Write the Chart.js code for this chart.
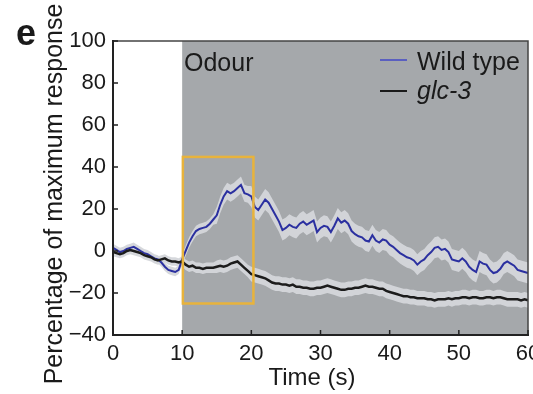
<!DOCTYPE html>
<html>
<head>
<meta charset="utf-8">
<script src="https://cdn.jsdelivr.net/npm/chart.js@4.4.1/dist/chart.umd.min.js"></script>
<style>
  html, body { margin: 0; padding: 0; background: #fff; }
  #wrap { width: 533px; height: 394px; }
</style>
</head>
<body>
<div id="wrap"><canvas id="chart" width="533" height="394"></canvas></div>
<script>
// Samples every 0.5 s, from 0 to 60 s
const sampleStep = 0.5;

const wildType = [
    1.5, 0.5, -0.5, 0, 1, 1.5, 2, 1, 0, -1,
    -1.5, -2.5, -3.5, -4, -5.5, -7.5, -9, -9.5, -10, -9,
    -4, 0, 4, 7, 9.5, 10.5, 11, 11.5, 13, 15,
    17, 22, 26, 28.5, 27.5, 28.5, 30, 31.5, 27.5, 27,
    26, 21, 19.5, 22, 24.5, 23, 20, 17, 14, 10,
    11, 12.5, 11.5, 11, 13, 14, 12.5, 13.5, 14.5, 9,
    11, 12, 11.5, 9, 12, 15.5, 13.5, 14.5, 13, 9.5,
    8, 7, 6.5, 5, 4.5, 7.5, 5, 4, 5.5, 5,
    3, 2, 0.5, -1, -2, -3, -3.5, -4.5, -6.5, -5,
    -4, -2, -0.5, 1.5, 2, 0.5, 1, -0.5, -4, -4.5,
    -5, -3.5, -5, -7.5, -9, -10, -5, -6, -6.5, -9,
    -10.5, -10, -8.5, -6, -5, -6, -7, -9, -9.5, -10,
    -10.5
];

const glc3 = [
    -0.5, -1, -1.5, -1, 0, 0.5, 0, -0.5, -1, -2,
    -2.5, -3, -4, -4.5, -4, -3.5, -4.5, -5, -5, -5.5,
    -5, -6.5, -7.5, -7, -8, -8, -8.5, -8, -8, -8,
    -7.5, -7, -7.5, -7, -6, -5.5, -5, -6.5, -8, -9.5,
    -11, -11.5, -12, -12.5, -13, -14, -15, -15.5, -15.5, -16,
    -16, -16.5, -16, -17, -17, -17.5, -17.5, -18, -18, -17.5,
    -17.5, -17, -16.5, -17, -17.5, -18, -18.5, -18.5, -18, -18,
    -17.5, -17.5, -17, -16.5, -17, -17, -17.5, -18, -18, -19,
    -19.5, -20, -20.5, -21, -21.5, -21.5, -22, -22, -22.5, -22.5,
    -22.5, -23, -23, -23.5, -23, -23, -23, -22.5, -23, -22.5,
    -22.5, -22, -22, -22.5, -22, -22, -22.5, -22.5, -22, -22,
    -22.5, -22, -22, -22.5, -23, -23, -23, -23, -23.5, -23,
    -23.5
];

// error band half-width, one value per 5 s block
const wildTypeSem = [2, 2, 2.5, 4, 5, 5, 5, 5, 5, 5, 5, 5, 5];
const glc3Sem = [2, 2, 2.5, 3, 3.5, 3.5, 3.5, 3.5, 3.5, 3.5, 3.5, 3.5, 3.5];

const xTicks = [0, 10, 20, 30, 40, 50, 60];
const yTicks = [-40, -20, 0, 20, 40, 60, 80, 100];

const odourStart = 10;          // s
const highlightBox = [10.1, 20.3, -25, 44.8];  // t0, t1, low, high
const seriesNames = ["Wild type", "glc-3"];

const FONT = "'Liberation Sans', Arial, Helvetica, sans-serif";

function toPoints(values) {
    return values.map((v, i) => ({ x: i * sampleStep, y: v }));
}
function band(values, sem, sign) {
    return values.map((v, i) => {
        const t = i * sampleStep;
        return { x: t, y: v + sign * sem[Math.floor(t / 5)] };
    });
}

const BAND = "rgba(212,214,218,0.95)";

const decor = {
    id: "decor",
    beforeDraw(chart) {
        const { ctx, chartArea: a, scales: { x } } = chart;
        const x0 = x.getPixelForValue(odourStart);
        ctx.save();
        ctx.fillStyle = "#a5a8ab";
        ctx.fillRect(x0, a.top, a.right - x0, a.bottom - a.top);
        ctx.restore();
    },
    afterDatasetsDraw(chart) {
        const { ctx, chartArea: a, scales: { x, y } } = chart;
        ctx.save();

        // highlight box
        ctx.strokeStyle = "#e8b33c";
        ctx.lineWidth = 2.5;
        const bx0 = x.getPixelForValue(highlightBox[0]);
        const bx1 = x.getPixelForValue(highlightBox[1]);
        const by0 = y.getPixelForValue(highlightBox[3]);
        const by1 = y.getPixelForValue(highlightBox[2]);
        ctx.strokeRect(bx0, by0, bx1 - bx0, by1 - by0);

        // frame
        ctx.strokeStyle = "#444";
        ctx.lineWidth = 1.5;
        ctx.beginPath();
        ctx.moveTo(a.left, a.top);
        ctx.lineTo(a.right, a.top);
        ctx.lineTo(a.right, a.bottom);
        ctx.stroke();
        ctx.strokeStyle = "#222";
        ctx.lineWidth = 2;
        ctx.beginPath();
        ctx.moveTo(a.left, a.top - 1);
        ctx.lineTo(a.left, a.bottom);
        ctx.lineTo(a.right + 1, a.bottom);
        ctx.stroke();

        // inward ticks
        ctx.lineWidth = 1.5;
        ctx.beginPath();
        yTicks.forEach(v => {
            const py = y.getPixelForValue(v);
            ctx.moveTo(a.left, py);
            ctx.lineTo(a.left + 5, py);
        });
        xTicks.forEach(v => {
            const px = x.getPixelForValue(v);
            ctx.moveTo(px, a.bottom);
            ctx.lineTo(px, a.bottom - 5);
        });
        ctx.stroke();

        // texts
        ctx.fillStyle = "#1a1a1a";
        ctx.textBaseline = "middle";
        ctx.font = "25px " + FONT;
        ctx.textAlign = "left";
        ctx.fillText("Odour", 184, 64);
        ctx.fillText(seriesNames[0], 417, 63);
        ctx.font = "italic 25px " + FONT;
        ctx.fillText(seriesNames[1], 417, 92);

        ctx.lineWidth = 2;
        ctx.strokeStyle = "#5a5fc0";
        ctx.beginPath();
        ctx.moveTo(380, 60);
        ctx.lineTo(407, 60);
        ctx.stroke();
        ctx.strokeStyle = "#1a1a1a";
        ctx.beginPath();
        ctx.moveTo(380, 91);
        ctx.lineTo(407, 91);
        ctx.stroke();

        ctx.font = "24px " + FONT;
        ctx.textAlign = "center";
        ctx.fillText("Time (s)", 312, 378);

        ctx.font = "25px " + FONT;
        ctx.translate(55, 194);
        ctx.rotate(-Math.PI / 2);
        ctx.fillText("Percentage of maximum response", 0, 0);
        ctx.restore();

        ctx.save();
        ctx.fillStyle = "#1a1a1a";
        ctx.font = "bold 36px " + FONT;
        ctx.textAlign = "center";
        ctx.textBaseline = "middle";
        ctx.fillText("e", 26, 35);
        ctx.restore();
    }
};

new Chart(document.getElementById("chart"), {
    type: "line",
    data: {
        datasets: [
            {
                label: seriesNames[1],
                data: toPoints(glc3),
                borderColor: "#1c1c1c",
                borderWidth: 2.5,
                pointRadius: 0,
                fill: false,
                order: 0
            },
            {
                label: seriesNames[0],
                data: toPoints(wildType),
                borderColor: "#2b30a0",
                borderWidth: 2,
                pointRadius: 0,
                fill: false,
                order: 0
            },
            {
                data: band(wildType, wildTypeSem, 1),
                borderWidth: 0,
                pointRadius: 0,
                backgroundColor: BAND,
                fill: "+1",
                order: 1
            },
            {
                data: band(wildType, wildTypeSem, -1),
                borderWidth: 0,
                pointRadius: 0,
                fill: false,
                order: 1
            },
            {
                data: band(glc3, glc3Sem, 1),
                borderWidth: 0,
                pointRadius: 0,
                backgroundColor: BAND,
                fill: "+1",
                order: 1
            },
            {
                data: band(glc3, glc3Sem, -1),
                borderWidth: 0,
                pointRadius: 0,
                fill: false,
                order: 1
            }
        ]
    },
    options: {
        responsive: false,
        animation: false,
        layout: { padding: { left: 0, right: 5, top: 41, bottom: 0 } },
        plugins: { legend: { display: false }, tooltip: { enabled: false } },
        elements: { line: { tension: 0 } },
        scales: {
            x: {
                type: "linear",
                min: 0,
                max: 60,
                afterFit: s => { s.height = 59; s.paddingLeft = 0; s.paddingRight = 0; },
                afterBuildTicks: s => { s.ticks = xTicks.map(v => ({ value: v })); },
                grid: { display: false, drawTicks: false },
                border: { display: false },
                ticks: {
                    color: "#1a1a1a",
                    font: { family: FONT, size: 22 },
                    padding: 6,
                    maxRotation: 0
                }
            },
            y: {
                min: -40,
                max: 100,
                afterFit: s => { s.width = 113; s.paddingTop = 0; s.paddingBottom = 0; },
                afterBuildTicks: s => { s.ticks = yTicks.map(v => ({ value: v })); },
                grid: { display: false, drawTicks: false },
                border: { display: false },
                ticks: {
                    color: "#1a1a1a",
                    font: { family: FONT, size: 22 },
                    padding: 7,
                    callback: v => String(v).replace("-", "\u2212")
                }
            }
        }
    },
    plugins: [decor]
});
</script>
</body>
</html>
